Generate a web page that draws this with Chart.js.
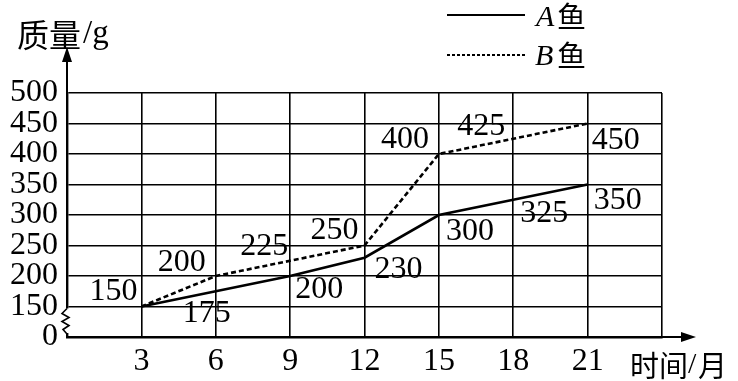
<!DOCTYPE html>
<html>
<head>
<meta charset="utf-8">
<script src="https://cdn.jsdelivr.net/npm/chart.js@4.4.1/dist/chart.umd.min.js"></script>
<style>
  html, body { margin: 0; padding: 0; background: #fff; }
  #wrap { width: 738px; height: 381px; position: relative; }
</style>
</head>
<body>
<div id="wrap"><canvas id="c" width="738" height="381"></canvas></div>
<script>
// 数据
const months = [3, 6, 9, 12, 15, 18, 21];
const fishA  = [150, 175, 200, 230, 300, 325, 350];
const fishB  = [150, 200, 225, 250, 400, 425, 450];
const yTicks = [100, 150, 200, 250, 300, 350, 400, 450, 500]; // 100 位置显示为 0（断轴）
const xTicks = [0, 3, 6, 9, 12, 15, 18, 21, 24];

const SERIF = '"Liberation Serif", "Noto Sans CJK SC", serif';
const CJK   = '"Noto Sans CJK SC", "Liberation Serif", serif';

// 数据标签相对点的偏移（像素）
const offA = [null, [-9, 22], [29, 14], [34, 12], [31, 17], [31, 14], [30, 16]];
const offB = [[-28, -15], [-34, -13], [-26, -14], [-30, -15], [-34, -14], [-32, -12], [28, 17]];

const extras = {
  id: 'extras',
  afterDraw(chart) {
    const ctx = chart.ctx;
    const { left, right, top, bottom } = chart.chartArea;
    ctx.save();
    ctx.strokeStyle = '#000'; ctx.fillStyle = '#000';

    // 坐标轴箭头
    ctx.lineWidth = 2;
    ctx.beginPath(); ctx.moveTo(left, top); ctx.lineTo(left, 56); ctx.stroke();
    ctx.beginPath(); ctx.moveTo(left, 47); ctx.lineTo(left - 5, 62); ctx.lineTo(left + 5, 62); ctx.closePath(); ctx.fill();
    ctx.beginPath(); ctx.moveTo(right, bottom); ctx.lineTo(688, bottom); ctx.stroke();
    ctx.beginPath(); ctx.moveTo(696, bottom); ctx.lineTo(681, bottom - 5); ctx.lineTo(681, bottom + 5); ctx.closePath(); ctx.fill();

    // 断轴折线
    const ys = chart.scales.y;
    const y150 = ys.getPixelForValue(150);
    ctx.fillStyle = '#fff';
    ctx.fillRect(left - 2, y150 + 2, 4, bottom - y150 - 6);
    ctx.fillStyle = '#000';
    ctx.lineWidth = 1.6;
    ctx.beginPath();
    ctx.moveTo(left, y150 + 2);
    ctx.lineTo(left - 5, y150 + 7);
    ctx.lineTo(left + 2, y150 + 11);
    ctx.lineTo(left - 5, y150 + 15);
    ctx.lineTo(left + 2, y150 + 19);
    ctx.lineTo(left - 4, y150 + 23);
    ctx.lineTo(left, bottom - 3);
    ctx.stroke();

    // 数据标签
    ctx.font = '32px ' + SERIF;
    ctx.textAlign = 'center'; ctx.textBaseline = 'middle';
    [[0, fishA, offA], [1, fishB, offB]].forEach(([di, vals, offs]) => {
      const meta = chart.getDatasetMeta(di);
      meta.data.forEach((pt, i) => {
        if (!offs[i]) return;
        ctx.fillText(String(vals[i]), pt.x + offs[i][0], pt.y + offs[i][1]);
      });
    });

    // 轴标题
    ctx.textAlign = 'left';
    ctx.font = '32px ' + CJK;
    ctx.fillText('质量', 17, 35);
    ctx.font = '33px ' + SERIF;
    ctx.fillText('/g', 83, 34);
    ctx.font = '29px ' + CJK;
    ctx.fillText('时间', 630, 366);
    ctx.font = '30px ' + SERIF;
    ctx.fillText('/', 688, 365);
    ctx.font = '29px ' + CJK;
    ctx.fillText('月', 698, 366);

    // 图例
    ctx.lineWidth = 2.2;
    ctx.beginPath(); ctx.moveTo(447, 15); ctx.lineTo(525, 15); ctx.stroke();
    ctx.setLineDash([3, 2]);
    ctx.beginPath(); ctx.moveTo(447, 55); ctx.lineTo(525, 55); ctx.stroke();
    ctx.setLineDash([]);
    ctx.font = 'italic 30px ' + SERIF;
    ctx.fillText('A', 536, 18);
    ctx.fillText('B', 535, 57);
    ctx.font = '29px ' + CJK;
    ctx.fillText('鱼', 557, 17);
    ctx.fillText('鱼', 557, 56);
    ctx.restore();
  }
};

new Chart(document.getElementById('c'), {
  type: 'line',
  data: {
    labels: months,
    datasets: [
      { label: 'A鱼', data: months.map((m, i) => ({ x: m, y: fishA[i] })),
        borderColor: '#000', borderWidth: 2.6, pointRadius: 0, fill: false, tension: 0 },
      { label: 'B鱼', data: months.map((m, i) => ({ x: m, y: fishB[i] })),
        borderColor: '#000', borderWidth: 2.6, borderDash: [5, 3], pointRadius: 0, fill: false, tension: 0 }
    ]
  },
  options: {
    responsive: false, animation: false,
    layout: { padding: { left: 0, top: 93, right: 76, bottom: 0 } },
    plugins: { legend: { display: false }, tooltip: { enabled: false } },
    scales: {
      x: {
        type: 'linear', min: 0, max: 24,
        afterBuildTicks: s => { s.ticks = xTicks.map(v => ({ value: v })); },
        afterFit: s => { s.height = 44; },
        grid: { color: '#000', lineWidth: 1.6, drawTicks: false },
        border: { color: '#000', width: 2.4 },
        ticks: { color: '#000', padding: 5, autoSkip: false, maxRotation: 0, font: { family: SERIF, size: 32 },
          callback: v => (v === 0 || v === 24) ? '' : String(v) }
      },
      y: {
        min: 100, max: 500,
        afterBuildTicks: s => { s.ticks = yTicks.map(v => ({ value: v })); },
        afterFit: s => { s.width = 67; },
        grid: { color: ctx => ctx.tick && ctx.tick.value === 100 ? 'rgba(0,0,0,0)' : '#000', lineWidth: 1.6, drawTicks: false },
        border: { color: '#000', width: 2.4 },
        ticks: { color: '#000', padding: 9, autoSkip: false, font: { family: SERIF, size: 32 },
          callback: v => v === 100 ? '0' : String(v) }
      }
    }
  },
  plugins: [extras]
});
</script>
</body>
</html>
